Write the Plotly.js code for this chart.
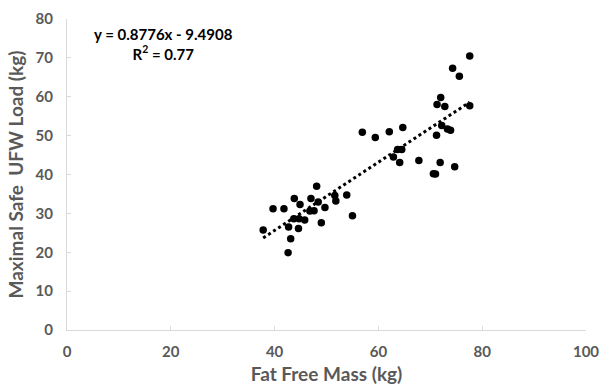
<!DOCTYPE html>
<html>
<head>
<meta charset="utf-8">
<script src="https://cdn.plot.ly/plotly-3.0.1.min.js"></script>
<style>html,body{margin:0;padding:0;background:#fff;}#chart{width:600px;height:387px;}</style>
</head>
<body>
<div id="chart"></div>
<script>
// Fat free mass (kg)
var ffm = [77.6, 74.3, 75.6, 72.0, 71.3, 72.8, 77.6, 56.9, 59.4, 62.1, 64.7, 72.2, 73.3, 73.9, 71.2,
           63.7, 64.5, 62.9, 64.1, 67.8, 71.9, 74.7, 70.6, 71.0, 48.1,
           43.8, 44.9, 47.0, 48.4, 51.6, 51.8, 53.9, 39.7, 41.8, 49.7, 46.8, 47.6,
           43.7, 44.7, 45.8, 49.0, 55.0, 37.8, 42.7, 44.6, 43.1, 42.6];
// Maximal safe UFW load (kg)
var load = [70.5, 67.3, 65.3, 59.8, 58.0, 57.5, 57.7, 50.9, 49.5, 51.0, 52.1, 52.6, 51.7, 51.4, 50.1,
            46.4, 46.4, 44.5, 43.1, 43.6, 43.1, 42.0, 40.2, 40.1, 37.0,
            33.8, 32.3, 33.8, 32.9, 34.6, 33.2, 34.7, 31.2, 31.2, 31.5, 30.6, 30.7,
            28.6, 28.6, 28.3, 27.6, 29.4, 25.7, 26.5, 26.1, 23.5, 19.9];
var slope = 0.8776, intercept = -9.4908;
var trendX = [Math.min.apply(null, ffm), Math.max.apply(null, ffm)];
var trendY = trendX.map(function(v){ return slope * v + intercept; });
var xTicks = [0, 20, 40, 60, 80, 100];
var yTicks = [0, 10, 20, 30, 40, 50, 60, 70, 80];

var font = "Lato, 'Open Sans', sans-serif";
var grey = '#595959';

var traces = [
  {x: trendX, y: trendY, mode: 'lines', type: 'scatter',
   line: {color: '#000', width: 3, dash: 'dot'}, hoverinfo: 'skip', showlegend: false},
  {x: ffm, y: load, mode: 'markers', type: 'scatter',
   marker: {color: '#000', size: 7.5}, showlegend: false}
];

var layout = {
  width: 600, height: 387,
  margin: {l: 67, r: 14, t: 19, b: 57},
  paper_bgcolor: '#fff', plot_bgcolor: '#fff',
  showlegend: false,
  font: {family: font, color: grey},
  xaxis: {
    range: [0, 100], tickvals: xTicks, ticktext: xTicks.map(String),
    showgrid: false, zeroline: false, showline: true, linecolor: '#d9d9d9', linewidth: 1,
    ticks: 'inside', ticklen: 4, tickcolor: '#d9d9d9',
    tickfont: {family: font, size: 15, color: grey, weight: 'bold'},
    ticklabelstandoff: 8,
    title: {text: '<b>Fat Free Mass (kg)</b>', font: {family: font, size: 19, color: grey}, standoff: 8}
  },
  yaxis: {
    range: [0, 80], tickvals: yTicks, ticktext: yTicks.map(String),
    showgrid: false, zeroline: false, showline: true, linecolor: '#d9d9d9', linewidth: 1,
    ticks: 'inside', ticklen: 4, tickcolor: '#d9d9d9',
    tickfont: {family: font, size: 15, color: grey, weight: 'bold'},
    ticklabelstandoff: 10,
    title: {text: '<b>Maximal Safe  UFW Load (kg)</b>', font: {family: font, size: 19, color: grey}, standoff: 6}
  },
  annotations: [{
    xref: 'paper', yref: 'paper', x: (163 - 67) / 519, y: (330.5 - 44) / 311.5,
    xanchor: 'center', yanchor: 'middle', align: 'center', showarrow: false,
    text: '<b>y = 0.8776x - 9.4908<br>R<sup>2</sup> = 0.77</b>',
    font: {family: font, size: 15, color: '#000'}
  }]
};

Plotly.newPlot('chart', traces, layout, {staticPlot: true, displayModeBar: false});
</script>
</body>
</html>
